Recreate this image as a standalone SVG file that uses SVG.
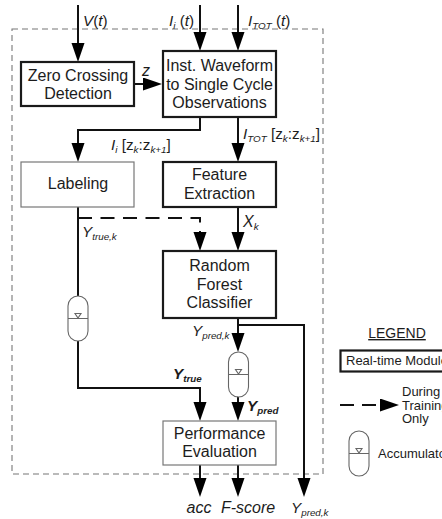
<svg xmlns="http://www.w3.org/2000/svg" width="442" height="519" viewBox="0 0 442 519">
<style>
text{font-family:"Liberation Sans",Arial,sans-serif;font-size:16px;fill:#1c1c1c}
.m{text-anchor:middle}
.i{font-style:italic}
.b{font-weight:bold}
.l{font-size:15.300px}
.s{font-size:9.800px}
.g{font-size:13px}
.rt{fill:#fff;stroke:#1a1a1a;stroke-width:2.200}
.lt{fill:#fff;stroke:#777;stroke-width:1.200}
.c{fill:none;stroke:#111;stroke-width:2}
.a{marker-end:url(#h)}
.d{stroke-dasharray:14 8.500}
.ac{fill:#fff;stroke:#666;stroke-width:1.100}
</style>
<defs>
<marker id="h" markerUnits="userSpaceOnUse" markerWidth="20" markerHeight="14" refX="15" refY="6.500" orient="auto">
<path d="M0 0L19 6.500L0 13Z" fill="#000"/>
</marker>
<g id="acc">
<rect class="ac" x="-10" y="0" width="20" height="45" rx="10" ry="10"/>
<path class="ac" d="M-10 22.500H10M-3 17.500H3L0 22Z"/>
</g>
</defs>
<rect id="boundary" x="12" y="29" width="311" height="445" fill="none" stroke="#777" stroke-width="1.100" stroke-dasharray="6 4"/>
<g id="connectors">
<path class="c a" d="M78 5V58"/>
<path class="c a" d="M200 5V47"/>
<path class="c a" d="M238 5V47"/>
<path class="c a" d="M134 84H158"/>
<path class="c a" d="M200 117V130H78V158"/>
<path class="c a" d="M238 117V158"/>
<path class="c a" d="M238 207V247"/>
<path class="c" d="M78 207V296"/>
<path class="c a d" d="M78 218H200V247"/>
<path class="c a" d="M78 341V388H200V417"/>
<path class="c a" d="M238 318V348"/>
<path class="c a" d="M238 325H304V493"/>
<path class="c a" d="M238 396V417"/>
<path class="c a" d="M200 465V493"/>
<path class="c a" d="M238 465V493"/>
</g>
<g id="zero"><rect class="rt" x="21" y="62" width="113" height="44"/><text class="m" x="78" y="81">Zero Crossing</text><text class="m" x="78" y="99">Detection</text></g>
<g id="inst"><rect class="rt" x="163" y="51" width="113" height="66"/><text class="m" x="219.500" y="71">Inst. Waveform</text><text class="m" x="219.500" y="90">to Single Cycle</text><text class="m" x="219.500" y="108">Observations</text></g>
<g id="labeling"><rect class="lt" x="21" y="162" width="113" height="45"/><text class="m" x="78" y="189">Labeling</text></g>
<g id="feature"><rect class="rt" x="163" y="162" width="113" height="45"/><text class="m" x="219.500" y="180">Feature</text><text class="m" x="219.500" y="199">Extraction</text></g>
<g id="forest"><rect class="rt" x="163" y="251" width="113" height="67"/><text class="m" x="219.500" y="271">Random</text><text class="m" x="219.500" y="290">Forest</text><text class="m" x="219.500" y="308">Classifier</text></g>
<g id="performance"><rect class="lt" x="163" y="421" width="113" height="44"/><text class="m" x="219.500" y="439">Performance</text><text class="m" x="219.500" y="457">Evaluation</text></g>
<g id="accumulator-true"><use href="#acc" x="78" y="296"/></g>
<g id="accumulator-pred"><use href="#acc" x="238.500" y="352"/></g>
<g id="labels">
<text class="l" x="83" y="26"><tspan class="i">V</tspan>(<tspan class="i">t</tspan>)</text>
<text class="l" x="169" y="26"><tspan class="i">I<tspan class="s" dy="3">i</tspan></tspan><tspan dy="-3"> (</tspan><tspan class="i">t</tspan>)</text>
<text class="l" x="248" y="26"><tspan class="i">I<tspan class="s" dy="3">TOT</tspan></tspan><tspan dy="-3"> (</tspan><tspan class="i">t</tspan>)</text>
<text class="i" x="142" y="76">z</text>
<text class="l" x="111" y="150"><tspan class="i">I<tspan class="s" dy="3">i</tspan></tspan><tspan dy="-3"> [z</tspan><tspan class="s i" dy="3">k</tspan><tspan dy="-3">:z</tspan><tspan class="s i" dy="3">k+1</tspan><tspan dy="-3">]</tspan></text>
<text class="l" x="243" y="139"><tspan class="i">I<tspan class="s" dy="3">TOT</tspan></tspan><tspan dy="-3"> [z</tspan><tspan class="s i" dy="3">k</tspan><tspan dy="-3">:z</tspan><tspan class="s i" dy="3">k+1</tspan><tspan dy="-3">]</tspan></text>
<text class="i" x="243" y="227">X<tspan class="s" dy="3">k</tspan></text>
<text class="i l" x="82" y="237">Y<tspan class="s" dy="3">true,k</tspan></text>
<text class="i l" x="192" y="336">Y<tspan class="s" dy="3">pred,k</tspan></text>
<text class="i b l" x="173" y="379">Y<tspan class="s" dy="3">true</tspan></text>
<text class="i b l" x="247" y="411">Y<tspan class="s" dy="3">pred</tspan></text>
<text class="i m" x="199" y="513">acc</text>
<text class="i m" x="248" y="513">F-score</text>
<text class="i l" x="291" y="513">Y<tspan class="s" dy="3">pred,k</tspan></text>
</g>
<g id="legend">
<text class="m" x="397" y="338" style="font-size:14px" text-decoration="underline">LEGEND</text>
<rect class="rt" x="340.500" y="350.500" width="110" height="21"/>
<text class="g" x="346" y="365">Real-time Module</text>
<path class="c a" style="stroke-dasharray:14 8" d="M340 405H395"/>
<text class="g" x="402" y="396">During</text>
<text class="g" x="402" y="410">Training</text>
<text class="g" x="402" y="423">Only</text>
<use href="#acc" x="359" y="431"/>
<text class="g" x="378" y="458">Accumulator</text>
</g>
</svg>
